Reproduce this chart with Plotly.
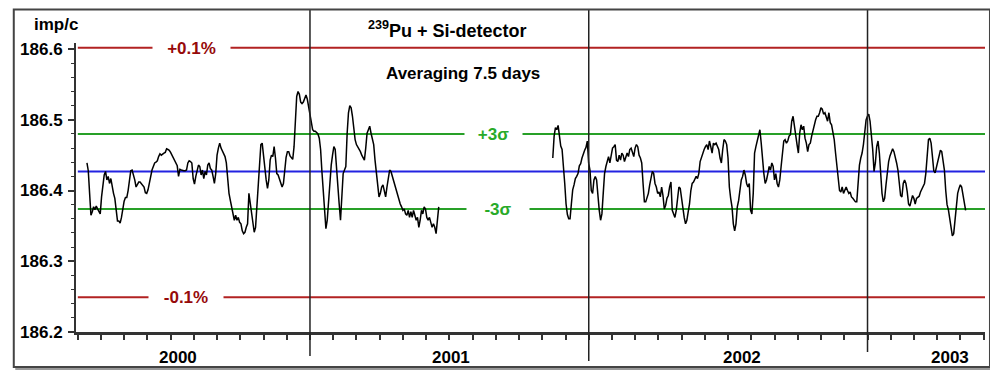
import numpy as np
import plotly.graph_objects as go

# ---- reference levels (imp/c) ----
MEAN = 186.427
SIGMA3_HI = 186.480
SIGMA3_LO = 186.374
PCT_HI = 186.602
PCT_LO = 186.249

Y_TICKS = [186.2, 186.3, 186.4, 186.5, 186.6]
YEAR_LABELS = ["2000", "2001", "2002", "2003"]
YEAR_BOUNDS = [2001, 2002, 2003]

# ---- measured series (7.5-day averaging), sampled every ~1.74 days ----
SEG1_START = 2000.200   # decimal year
SEG2_START = 2001.871
STEP_YEARS = 1 / 210

seg1_values = [
    186.439, 186.428, 186.396, 186.365, 186.370, 186.377, 186.373, 186.378, 186.374, 186.370,
    186.367, 186.391, 186.410, 186.422, 186.427, 186.415, 186.420, 186.410, 186.417, 186.405,
    186.396, 186.389, 186.370, 186.357, 186.357, 186.354, 186.362, 186.376, 186.385, 186.390,
    186.390, 186.400, 186.417, 186.428, 186.429, 186.423, 186.415, 186.405, 186.408, 186.412,
    186.412, 186.410, 186.408, 186.405, 186.397, 186.396, 186.401, 186.412, 186.423, 186.429,
    186.434, 186.439, 186.440, 186.442, 186.448, 186.452, 186.450, 186.452, 186.453, 186.454,
    186.459, 186.458, 186.457, 186.454, 186.450, 186.448, 186.442, 186.440, 186.435, 186.420,
    186.430, 186.429, 186.428, 186.428, 186.428, 186.429, 186.439, 186.442, 186.441, 186.439,
    186.417, 186.409, 186.420, 186.431, 186.436, 186.434, 186.422, 186.429, 186.417, 186.427,
    186.422, 186.436, 186.439, 186.431, 186.429, 186.420, 186.410, 186.424, 186.450, 186.460,
    186.467, 186.460, 186.455, 186.453, 186.448, 186.439, 186.415, 186.396, 186.386, 186.377,
    186.367, 186.358, 186.365, 186.358, 186.362, 186.355, 186.353, 186.343, 186.339, 186.341,
    186.348, 186.353,
    186.396, 186.381, 186.365, 186.353, 186.341, 186.348, 186.377, 186.400, 186.429, 186.465,
    186.467, 186.446, 186.427, 186.415, 186.403, 186.415, 186.443, 186.450, 186.448, 186.462,
    186.446, 186.424, 186.422, 186.417, 186.411, 186.405, 186.410, 186.431, 186.447, 186.455,
    186.455, 186.449, 186.446, 186.444, 186.462, 186.505, 186.533, 186.540, 186.536, 186.525,
    186.523, 186.525, 186.529, 186.535, 186.529, 186.517, 186.505, 186.495, 186.486, 186.484,
    186.484, 186.482, 186.480, 186.474, 186.458, 186.427, 186.398, 186.374, 186.346, 186.358,
    186.386, 186.415, 186.436, 186.450, 186.462, 186.458, 186.428, 186.400, 186.381, 186.358,
    186.396, 186.424, 186.429, 186.434, 186.481, 186.510, 186.520, 186.517, 186.505, 186.486,
    186.472, 186.465, 186.462, 186.458, 186.455, 186.450, 186.446, 186.443, 186.460, 186.481,
    186.486, 186.491, 186.481, 186.474, 186.465, 186.443, 186.427, 186.410, 186.391, 186.396,
    186.405, 186.408, 186.400, 186.391, 186.405, 186.420, 186.429, 186.427, 186.420, 186.412,
    186.405, 186.400, 186.391, 186.386, 186.381, 186.377, 186.372, 186.374, 186.367, 186.365,
    186.372, 186.362, 186.370, 186.362, 186.372, 186.365, 186.358, 186.362, 186.348, 186.358,
    186.372, 186.367, 186.377, 186.374, 186.362, 186.358, 186.362, 186.355, 186.348, 186.353,
    186.348, 186.339, 186.360, 186.377,
]

seg2_values = [
    186.446, 186.477, 186.489, 186.486, 186.492, 186.474, 186.463, 186.458, 186.439, 186.410,
    186.381, 186.366, 186.360, 186.360, 186.381, 186.401, 186.408, 186.417, 186.420, 186.424,
    186.435, 186.438, 186.446, 186.453, 186.457, 186.461, 186.470, 186.439, 186.429, 186.400,
    186.396, 186.415, 186.420, 186.415, 186.391, 186.372, 186.358, 186.367, 186.396, 186.424,
    186.434, 186.443, 186.448, 186.439, 186.450, 186.460, 186.462, 186.465, 186.443, 186.441,
    186.450, 186.443, 186.453, 186.450, 186.441, 186.446, 186.453, 186.448, 186.458, 186.460,
    186.453, 186.448, 186.460, 186.465, 186.462, 186.450, 186.446, 186.439, 186.410, 186.384,
    186.384, 186.389, 186.396, 186.408, 186.417, 186.427, 186.424, 186.410, 186.405, 186.396,
    186.398, 186.391, 186.405, 186.393, 186.374, 186.379, 186.389, 186.393, 186.405, 186.412,
    186.372, 186.365, 186.362, 186.372, 186.386, 186.405, 186.403, 186.389, 186.372, 186.362,
    186.353, 186.358, 186.370, 186.381, 186.400, 186.410, 186.412, 186.415, 186.420, 186.417,
    186.424, 186.441, 186.448, 186.455, 186.458, 186.462, 186.465, 186.458, 186.470, 186.462,
    186.453, 186.467, 186.465, 186.467, 186.462, 186.458, 186.446, 186.439, 186.458, 186.472,
    186.470, 186.465, 186.446, 186.405, 186.389, 186.377, 186.353, 186.343, 186.353, 186.377,
    186.386, 186.400, 186.415, 186.420, 186.429, 186.422, 186.410, 186.405, 186.410, 186.372,
    186.367, 186.396, 186.453, 186.462, 186.470, 186.481, 186.486, 186.467, 186.443, 186.424,
    186.410, 186.415, 186.424, 186.434, 186.429, 186.439, 186.434, 186.415, 186.424, 186.410,
    186.405, 186.415, 186.434, 186.458, 186.470, 186.472, 186.467, 186.470, 186.477, 186.479,
    186.498, 186.505, 186.491, 186.472, 186.465, 186.453, 186.481, 186.493, 186.486, 186.491,
    186.474, 186.467, 186.455, 186.465, 186.467, 186.477, 186.486, 186.493, 186.500, 186.505,
    186.505, 186.510, 186.517, 186.515, 186.508, 186.510, 186.505, 186.498, 186.510, 186.496,
    186.493, 186.484, 186.472, 186.453, 186.434, 186.415, 186.400, 186.398, 186.405, 186.396,
    186.400, 186.405, 186.400, 186.396, 186.398, 186.391, 186.389, 186.386, 186.384, 186.384,
    186.410, 186.436, 186.446, 186.453, 186.465, 186.486, 186.500, 186.505, 186.508, 186.498,
    186.481, 186.458, 186.427, 186.439, 186.462, 186.470, 186.453, 186.415, 186.396, 186.384,
    186.389, 186.408, 186.427, 186.441, 186.449, 186.453, 186.459, 186.455, 186.448, 186.439,
    186.429, 186.412, 186.393, 186.391, 186.410, 186.415, 186.410, 186.398, 186.381, 186.378,
    186.386, 186.393, 186.389, 186.381, 186.389, 186.390, 186.392, 186.398, 186.403, 186.408,
    186.410, 186.424, 186.453, 186.472, 186.474, 186.467, 186.448, 186.428, 186.425, 186.434,
    186.443, 186.452, 186.457, 186.455, 186.444, 186.429, 186.400, 186.380, 186.373, 186.362,
    186.346, 186.336, 186.339, 186.362, 186.381, 186.396, 186.403, 186.408, 186.405, 186.393,
    186.381, 186.372,
]

x1 = SEG1_START + STEP_YEARS * np.arange(len(seg1_values))
x2 = SEG2_START + STEP_YEARS * np.arange(len(seg2_values))

X_MIN, X_MAX = 2000.1607, 2003.4214
Y_MIN, Y_MAX = 186.2, 186.6086

month_ticks = [2000 + 2 / 12 + k / 12 for k in range(40)]

RED = "rgb(178,34,34)"
RED_TXT = "rgb(150,10,10)"
GREEN = "rgb(40,160,40)"
GREEN_TXT = "rgb(40,170,40)"
BLUE = "rgb(35,35,225)"
AX = "#333333"
FONT = "Liberation Sans, Arial, sans-serif"

fig = go.Figure()
for xs, ys in ((x1, seg1_values), (x2, seg2_values)):
    fig.add_trace(go.Scatter(x=xs, y=ys, mode="lines",
                             line=dict(color="black", width=1.5),
                             showlegend=False, hoverinfo="skip"))

shapes = []
for yv, col in ((PCT_HI, RED), (PCT_LO, RED), (SIGMA3_HI, GREEN),
                (SIGMA3_LO, GREEN), (MEAN, BLUE)):
    shapes.append(dict(type="line", xref="paper", yref="y", x0=0.002, x1=1.0,
                       y0=yv, y1=yv, line=dict(color=col, width=2), layer="below"))

# page pixel -> paper fraction (plot area spans page x 72..985, y 43..332)
def yp(py):
    return (332 - py) / 289

def xp(px):
    return (px - 72) / 913

for xb, top, bot in zip(YEAR_BOUNDS, (10, 10, 10), (356, 361, 352)):
    shapes.append(dict(type="line", xref="x", yref="paper", x0=xb, x1=xb,
                       y0=yp(bot), y1=yp(top), line=dict(color="#222222", width=1.5)))

# outer frame with a light shadow
shapes.append(dict(type="rect", xref="paper", yref="paper",
                   x0=xp(9.5), x1=xp(990), y0=yp(367), y1=yp(9.5),
                   line=dict(color="#444444", width=2)))
shapes.append(dict(type="line", xref="paper", yref="paper",
                   x0=xp(11), x1=xp(992), y0=yp(369), y1=yp(369),
                   line=dict(color="#999999", width=2)))
shapes.append(dict(type="line", xref="paper", yref="paper",
                   x0=xp(992), x1=xp(992), y0=yp(369), y1=yp(11),
                   line=dict(color="#999999", width=2)))

def bold(size, color="black"):
    return dict(family=FONT, size=size, color=color, weight="bold")

ann = [
    dict(text="imp/c", x=xp(52), y=yp(24), font=bold(17)),
    dict(text="<sup>239</sup>Pu + Si-detector", x=xp(445), y=yp(30), font=bold(18)),
    dict(text="Averaging 7.5 days", x=xp(461), y=yp(73), font=bold(17)),
    dict(text="+0.1%", x=xp(188), y=PCT_HI, yref="y", font=bold(17, RED_TXT),
         bgcolor="white", width=77, height=14),
    dict(text="-0.1%", x=xp(182), y=PCT_LO, yref="y", font=bold(17, RED_TXT),
         bgcolor="white", width=74, height=14),
    dict(text="+3σ", x=xp(491), y=SIGMA3_HI, yref="y", font=bold(17, GREEN_TXT),
         bgcolor="white", width=57, height=14),
    dict(text="-3σ", x=xp(496), y=SIGMA3_LO, yref="y", font=bold(17, GREEN_TXT),
         bgcolor="white", width=62, height=14),
]
for lab, px in zip(YEAR_LABELS, (174, 449, 741, 950)):
    ann.append(dict(text=lab, x=xp(px), y=yp(357), font=bold(17)))
for a in ann:
    a.setdefault("xref", "paper")
    a.setdefault("yref", "paper")
    a["showarrow"] = False
    a["xanchor"] = "center"
    a["yanchor"] = "middle"
    a["borderpad"] = 0

# the page body adds an 8 px offset, so the figure is 8 px smaller in each direction
fig.update_layout(
    width=990, height=368,
    margin=dict(l=64, r=13, t=35, b=44),
    paper_bgcolor="white", plot_bgcolor="white",
    shapes=shapes, annotations=ann,
    xaxis=dict(range=[X_MIN, X_MAX], tickvals=month_ticks, showticklabels=False,
               ticks="outside", ticklen=5, tickwidth=1.5, tickcolor=AX,
               showline=True, linewidth=3, linecolor=AX,
               showgrid=False, zeroline=False, fixedrange=True),
    yaxis=dict(range=[Y_MIN, Y_MAX], tickvals=Y_TICKS,
               ticktext=[f"{v:.1f}" for v in Y_TICKS],
               ticks="outside", ticklen=6, tickwidth=1.5, tickcolor=AX,
               tickfont=bold(17), ticklabelstandoff=2,
               minor=dict(dtick=0.02, ticks="outside", ticklen=3, tickcolor=AX, tickwidth=1),
               showline=True, linewidth=2, linecolor=AX,
               showgrid=False, zeroline=False, fixedrange=True),
)

fig.write_html("out.html")
